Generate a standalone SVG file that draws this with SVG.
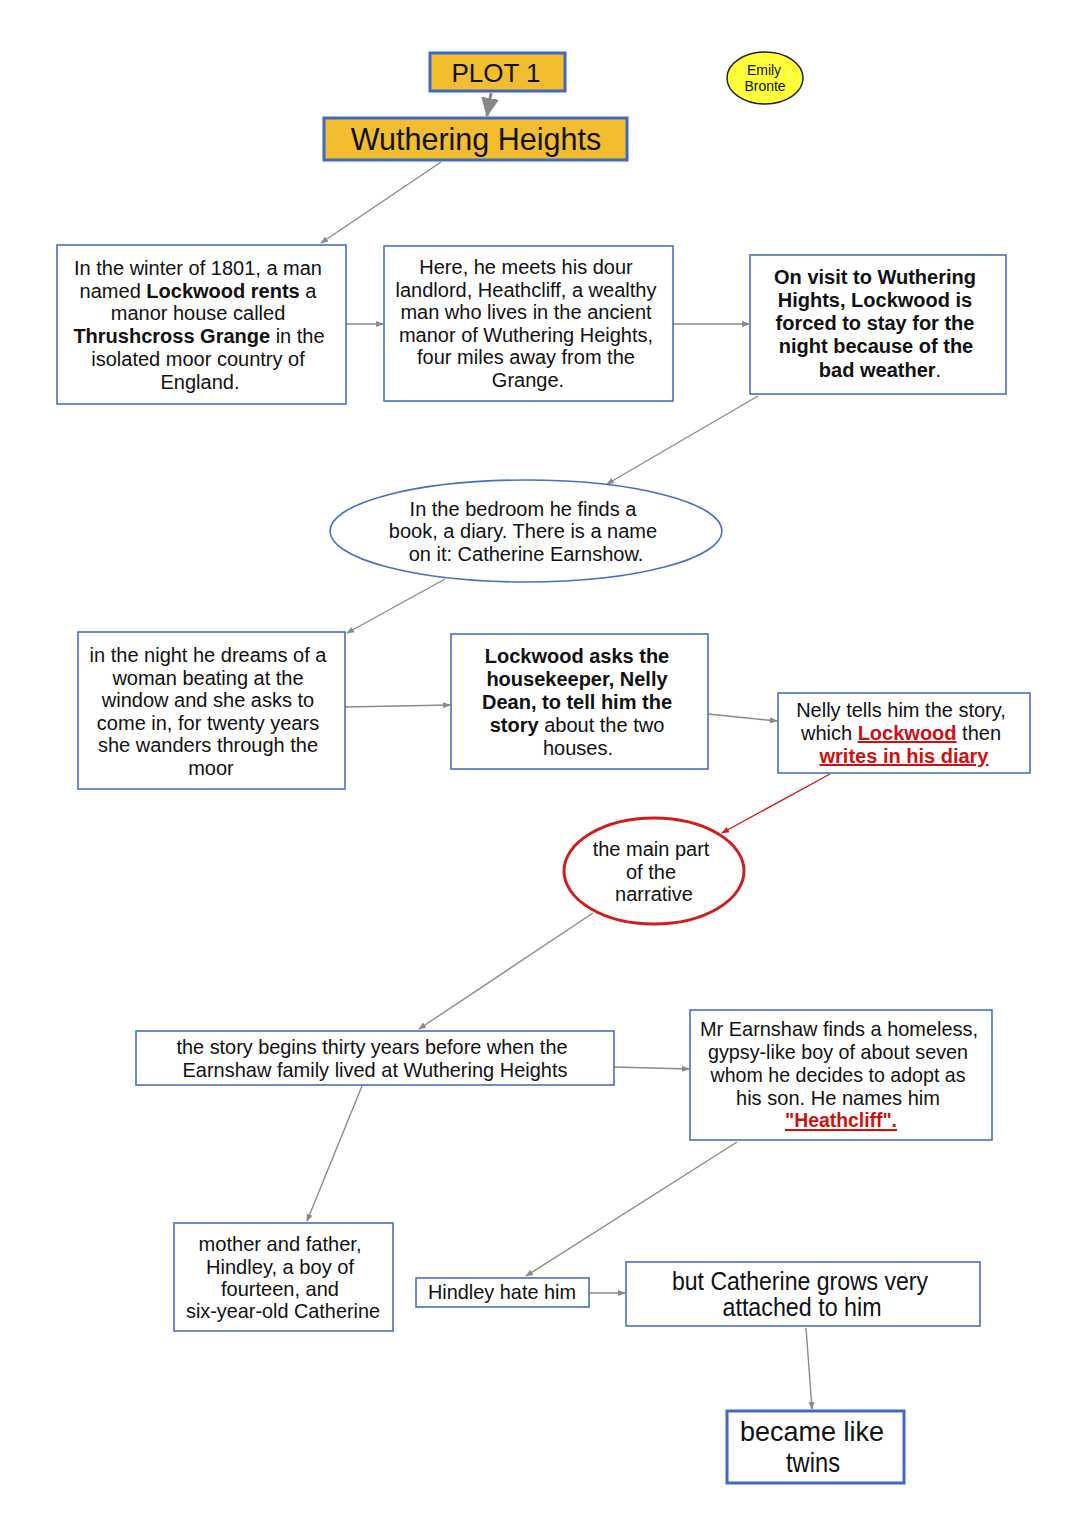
<svg xmlns="http://www.w3.org/2000/svg" width="1086" height="1536" viewBox="0 0 1086 1536">
<style>
  .box{fill:#fff;stroke:#4a6fbd;stroke-width:1.6}
  .title{fill:#f2bd2e;stroke:#3f69c4;stroke-width:3}
  .t{font-family:"Liberation Sans",Arial,sans-serif;font-size:20px;fill:#111;text-anchor:middle}
  .n{font-family:"Liberation Sans",Arial,sans-serif;font-size:21px;fill:#111;text-anchor:middle}
  .b{font-weight:bold}
  .red{fill:#cc1111;font-weight:bold;text-decoration:underline}
  .con{stroke:#8a8a8a;stroke-width:1.4;fill:none;marker-end:url(#ah)}
</style>
<defs>
  <marker id="ah" markerWidth="8" markerHeight="8" refX="7" refY="4" orient="auto" markerUnits="userSpaceOnUse">
    <path d="M0,1 L8,4 L0,7 z" fill="#8a8a8a"/>
  </marker>
  <marker id="ahr" markerWidth="8" markerHeight="8" refX="7" refY="4" orient="auto" markerUnits="userSpaceOnUse">
    <path d="M0,1 L8,4 L0,7 z" fill="#cc1f1f"/>
  </marker>
  <marker id="big" markerWidth="20" markerHeight="20" refX="18" refY="10" orient="auto" markerUnits="userSpaceOnUse">
    <path d="M0,1 L19,10 L0,19 z" fill="#888"/>
  </marker>
</defs>
<rect width="1086" height="1536" fill="#fff"/>

<g id="connectors">
  <line x1="491" y1="93" x2="487" y2="116" stroke="#888" stroke-width="3" marker-end="url(#big)"/>
  <line class="con" x1="441" y1="162" x2="321" y2="243"/>
  <line class="con" x1="346" y1="324" x2="383" y2="324"/>
  <line class="con" x1="673" y1="324" x2="749" y2="324"/>
  <line class="con" x1="758" y1="396" x2="607" y2="484"/>
  <line class="con" x1="445" y1="579" x2="347" y2="633"/>
  <line class="con" x1="345" y1="707" x2="450" y2="705"/>
  <line class="con" x1="708" y1="714" x2="777" y2="721"/>
  <line x1="830" y1="774" x2="722" y2="833" stroke="#cc1f1f" stroke-width="1.4" marker-end="url(#ahr)"/>
  <line class="con" x1="593" y1="913" x2="419" y2="1029"/>
  <line class="con" x1="614" y1="1067" x2="689" y2="1069"/>
  <line class="con" x1="362" y1="1086" x2="307" y2="1221"/>
  <line class="con" x1="737" y1="1142" x2="526" y2="1276"/>
  <line class="con" x1="589" y1="1293" x2="625" y2="1293"/>
  <line class="con" x1="806" y1="1328" x2="812" y2="1409"/>
</g>

<g id="plot1">
  <rect class="title" x="430" y="53" width="135" height="38"/>
  <text class="t" x="496" y="82" style="font-size:26px">PLOT 1</text>
</g>
<g id="wuthering">
  <rect class="title" x="324" y="118" width="303" height="42"/>
  <text class="t" x="476" y="150" style="font-size:30.5px">Wuthering Heights</text>
</g>
<g id="emily">
  <ellipse cx="765" cy="78" rx="38" ry="26" fill="#ffff3a" stroke="#222" stroke-width="1.5"/>
  <text class="t" x="764" y="75" style="font-size:14px">Emily</text>
  <text class="t" x="765" y="91" style="font-size:14px">Bronte</text>
</g>

<g id="n1">
  <rect class="box" x="57" y="245" width="289" height="159"/>
  <text class="t" x="198" y="275">In the winter of 1801, a man</text>
  <text class="t" x="198" y="298">named <tspan class="b">Lockwood rents</tspan> a</text>
  <text class="t" x="198" y="320">manor house called</text>
  <text class="t" x="199" y="343"><tspan class="b">Thrushcross  Grange</tspan> in the</text>
  <text class="t" x="198" y="366">isolated moor country of</text>
  <text class="t" x="200" y="389">England.</text>
</g>
<g id="n2">
  <rect class="box" x="384" y="246" width="289" height="155"/>
  <text class="t" x="526" y="274">Here, he meets his dour</text>
  <text class="t" x="526" y="297">landlord, Heathcliff, a wealthy</text>
  <text class="t" x="526" y="319">man who lives in the ancient</text>
  <text class="t" x="526" y="342">manor of Wuthering Heights,</text>
  <text class="t" x="526" y="364">four miles away from the</text>
  <text class="t" x="528" y="387">Grange.</text>
</g>
<g id="n3">
  <rect class="box" x="750" y="255" width="256" height="139"/>
  <text class="t b" x="875" y="284">On visit to Wuthering</text>
  <text class="t b" x="875" y="307">Hights, Lockwood is</text>
  <text class="t b" x="875" y="330">forced to stay for the</text>
  <text class="t b" x="876" y="353">night because of the</text>
  <text class="t" x="880" y="377"><tspan class="b">bad weather</tspan>.</text>
</g>
<g id="n4">
  <ellipse cx="526" cy="531" rx="196" ry="51" fill="#fff" stroke="#4a6fbd" stroke-width="1.6"/>
  <text class="t" x="523" y="516">In the bedroom he finds a</text>
  <text class="t" x="523" y="538">book, a diary. There is a name</text>
  <text class="t" x="526" y="561">on it: Catherine Earnshow.</text>
</g>
<g id="n5">
  <rect class="box" x="78" y="632" width="267" height="157"/>
  <text class="t" x="208" y="662">in the night he dreams of a</text>
  <text class="t" x="208" y="685">woman beating at the</text>
  <text class="t" x="208" y="707">window and she asks to</text>
  <text class="t" x="208" y="730">come in, for twenty years</text>
  <text class="t" x="208" y="752">she wanders through the</text>
  <text class="t" x="211" y="775">moor</text>
</g>
<g id="n6">
  <rect class="box" x="451" y="634" width="257" height="135"/>
  <text class="t b" x="577" y="663">Lockwood  asks  the</text>
  <text class="t b" x="577" y="686">housekeeper,  Nelly</text>
  <text class="t b" x="577" y="709">Dean, to tell him the</text>
  <text class="t" x="577" y="732"><tspan class="b">story</tspan> about the two</text>
  <text class="t" x="578" y="755">houses.</text>
</g>
<g id="n7">
  <rect class="box" x="778" y="693" width="252" height="80"/>
  <text class="t" x="901" y="717">Nelly tells him the story,</text>
  <text class="t" x="901" y="740">which <tspan class="red">Lockwood</tspan> then</text>
  <text class="t" x="904" y="763"><tspan class="red">writes in his diary</tspan></text>
</g>
<g id="n8">
  <ellipse cx="654" cy="871" rx="90" ry="53" fill="#fff" stroke="#cc1f1f" stroke-width="3"/>
  <text class="t" x="651" y="856">the main part</text>
  <text class="t" x="651" y="879">of the</text>
  <text class="t" x="654" y="901">narrative</text>
</g>
<g id="n9">
  <rect class="box" x="136" y="1031" width="478" height="54"/>
  <text class="n" x="372" y="1054" textLength="391" lengthAdjust="spacingAndGlyphs">the story begins thirty years before when the</text>
  <text class="n" x="375" y="1077" textLength="385" lengthAdjust="spacingAndGlyphs">Earnshaw family lived at Wuthering Heights</text>
</g>
<g id="n10">
  <rect class="box" x="690" y="1010" width="302" height="130"/>
  <text class="n" x="839" y="1036" textLength="278" lengthAdjust="spacingAndGlyphs">Mr Earnshaw finds a homeless,</text>
  <text class="n" x="838" y="1059" textLength="260" lengthAdjust="spacingAndGlyphs">gypsy-like boy of about seven</text>
  <text class="n" x="838" y="1082" textLength="255" lengthAdjust="spacingAndGlyphs">whom he decides to adopt as</text>
  <text class="n" x="838" y="1105" textLength="204" lengthAdjust="spacingAndGlyphs">his son. He names him</text>
  <text class="n" x="841" y="1127" textLength="112" lengthAdjust="spacingAndGlyphs"><tspan class="red">"Heathcliff".</tspan></text>
</g>
<g id="n11">
  <rect class="box" x="174" y="1223" width="219" height="108"/>
  <text class="n" x="280" y="1251" textLength="163" lengthAdjust="spacingAndGlyphs">mother and father,</text>
  <text class="n" x="280" y="1274" textLength="148" lengthAdjust="spacingAndGlyphs">Hindley, a boy of</text>
  <text class="n" x="280" y="1296" textLength="118" lengthAdjust="spacingAndGlyphs">fourteen, and</text>
  <text class="n" x="283" y="1318" textLength="194" lengthAdjust="spacingAndGlyphs">six-year-old Catherine</text>
</g>
<g id="n12">
  <rect class="box" x="416" y="1278" width="173" height="29"/>
  <text class="n" x="502" y="1299" textLength="148" lengthAdjust="spacingAndGlyphs">Hindley hate him</text>
</g>
<g id="n13">
  <rect class="box" x="626" y="1262" width="354" height="64"/>
  <text class="n" x="800" y="1290" style="font-size:25px" textLength="256" lengthAdjust="spacingAndGlyphs">but Catherine grows very</text>
  <text class="n" x="802" y="1316" style="font-size:25px" textLength="159" lengthAdjust="spacingAndGlyphs">attached to him</text>
</g>
<g id="n14">
  <rect x="727" y="1411" width="177" height="72" fill="#fff" stroke="#3f69c4" stroke-width="3"/>
  <text class="n" x="812" y="1441" style="font-size:28px" textLength="144" lengthAdjust="spacingAndGlyphs">became like</text>
  <text class="n" x="813" y="1472" style="font-size:28px" textLength="54" lengthAdjust="spacingAndGlyphs">twins</text>
</g>
</svg>
